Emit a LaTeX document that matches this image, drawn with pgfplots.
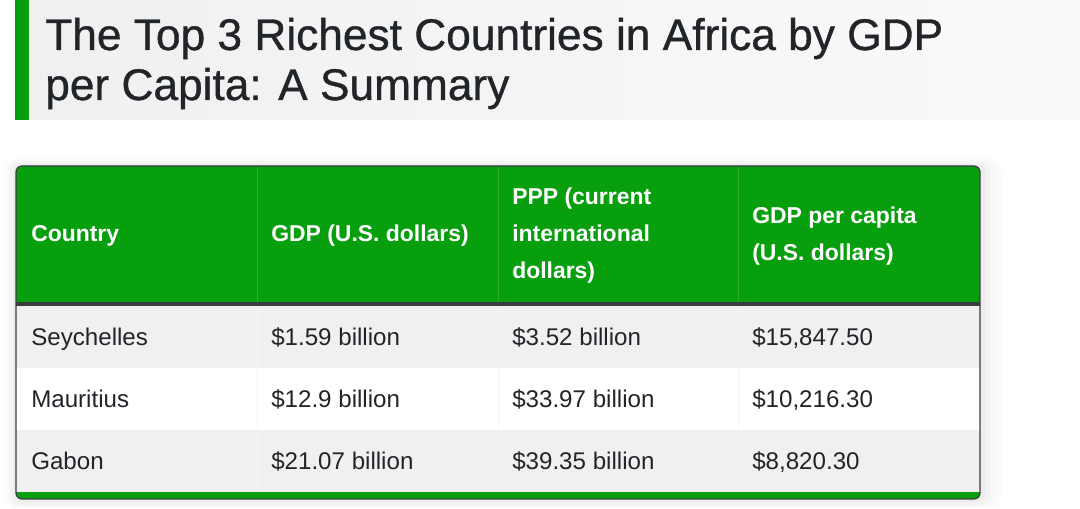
\documentclass[border=0pt]{standalone}
\usepackage{pgfplots}
\pgfplotsset{compat=1.18}
\usepackage{fontspec}
\setmainfont{Liberation Sans}
\newfontfamily\titlefont[FakeBold=0.8]{Liberation Sans}
\definecolor{hdr}{HTML}{079F0D}
\definecolor{hdrline}{HTML}{2DAE31}
\definecolor{ink}{HTML}{212529}
\definecolor{rowg}{HTML}{F0F0F0}
\definecolor{bord}{HTML}{3A3D40}
\begin{document}
\begin{tikzpicture}
\begin{axis}[at={(0,0)}, anchor=south west, scale only axis, width=810pt, height=381.75pt,
  xmin=0, xmax=1080, ymin=0, ymax=509, y dir=reverse, hide axis, clip=false]
\path (axis cs:0,0) rectangle (axis cs:1080,509);
% title band
\shade[left color=black!6, right color=black!2] (axis cs:15,0) rectangle (axis cs:1080,120);
\fill[hdr] (axis cs:15,0) rectangle (axis cs:29,120);
\node[anchor=base west, inner sep=0, text=ink, font=\titlefont\fontsize{33.2}{38}\selectfont] at (axis cs:45,50) {The Top 3 Richest Countries in Africa by GDP};
\node[anchor=base west, inner sep=0, text=ink, font=\titlefont\fontsize{33.2}{38}\selectfont] at (axis cs:45,100) {per Capita: A Summary};
% shadow
\fill[black, opacity=0.012, rounded corners=9pt] (axis cs:4,158) rectangle (axis cs:1002,508);
\fill[black, opacity=0.015, rounded corners=8pt] (axis cs:7,160) rectangle (axis cs:996,507);
\fill[black, opacity=0.02, rounded corners=7pt] (axis cs:10,162) rectangle (axis cs:990,505);
\fill[black, opacity=0.025, rounded corners=6pt] (axis cs:13,164) rectangle (axis cs:985,502);
% table
\begin{scope}
\clip[rounded corners=4.5pt] (axis cs:16,166) rectangle (axis cs:980,499);
\fill[hdr] (axis cs:15,165) rectangle (axis cs:981,303);
\fill[bord] (axis cs:15,302) rectangle (axis cs:981,306);
\fill[rowg] (axis cs:15,306) rectangle (axis cs:981,368);
\fill[white] (axis cs:15,368) rectangle (axis cs:981,430);
\fill[rowg] (axis cs:15,430) rectangle (axis cs:981,492);
\fill[hdr] (axis cs:15,492) rectangle (axis cs:981,499);
\draw[hdrline, line width=0.6pt] (axis cs:257,166) -- (axis cs:257,302) (axis cs:498,166) -- (axis cs:498,302) (axis cs:738,166) -- (axis cs:738,302);
\draw[white!96!black, line width=0.6pt] (axis cs:257,306) -- (axis cs:257,492) (axis cs:498,306) -- (axis cs:498,492) (axis cs:738,306) -- (axis cs:738,492);
\end{scope}
\draw[bord, line width=0.9pt, rounded corners=4.5pt] (axis cs:16,166) rectangle (axis cs:980,499);
% header text
\begin{scope}[every node/.style={anchor=base west, inner sep=0, text=white, font=\fontsize{17.2}{20}\selectfont\bfseries}]
\node at (axis cs:31,242) {Country};
\node at (axis cs:271,242) {GDP (U.S. dollars)};
\node at (axis cs:512,205) {PPP (current};
\node at (axis cs:512,242) {international};
\node at (axis cs:512,279) {dollars)};
\node at (axis cs:752,224) {GDP per capita};
\node at (axis cs:752,261) {(U.S. dollars)};
\end{scope}
% body text
\begin{scope}[every node/.style={anchor=base west, inner sep=0, text=ink, font=\fontsize{18.1}{20}\selectfont}]
\node at (axis cs:31,345) {Seychelles};
\node at (axis cs:271,345) {\$1.59 billion};
\node at (axis cs:512,345) {\$3.52 billion};
\node at (axis cs:752,345) {\$15,847.50};
\node at (axis cs:31,407) {Mauritius};
\node at (axis cs:271,407) {\$12.9 billion};
\node at (axis cs:512,407) {\$33.97 billion};
\node at (axis cs:752,407) {\$10,216.30};
\node at (axis cs:31,469) {Gabon};
\node at (axis cs:271,469) {\$21.07 billion};
\node at (axis cs:512,469) {\$39.35 billion};
\node at (axis cs:752,469) {\$8,820.30};
\end{scope}
\end{axis}
\end{tikzpicture}
\end{document}
